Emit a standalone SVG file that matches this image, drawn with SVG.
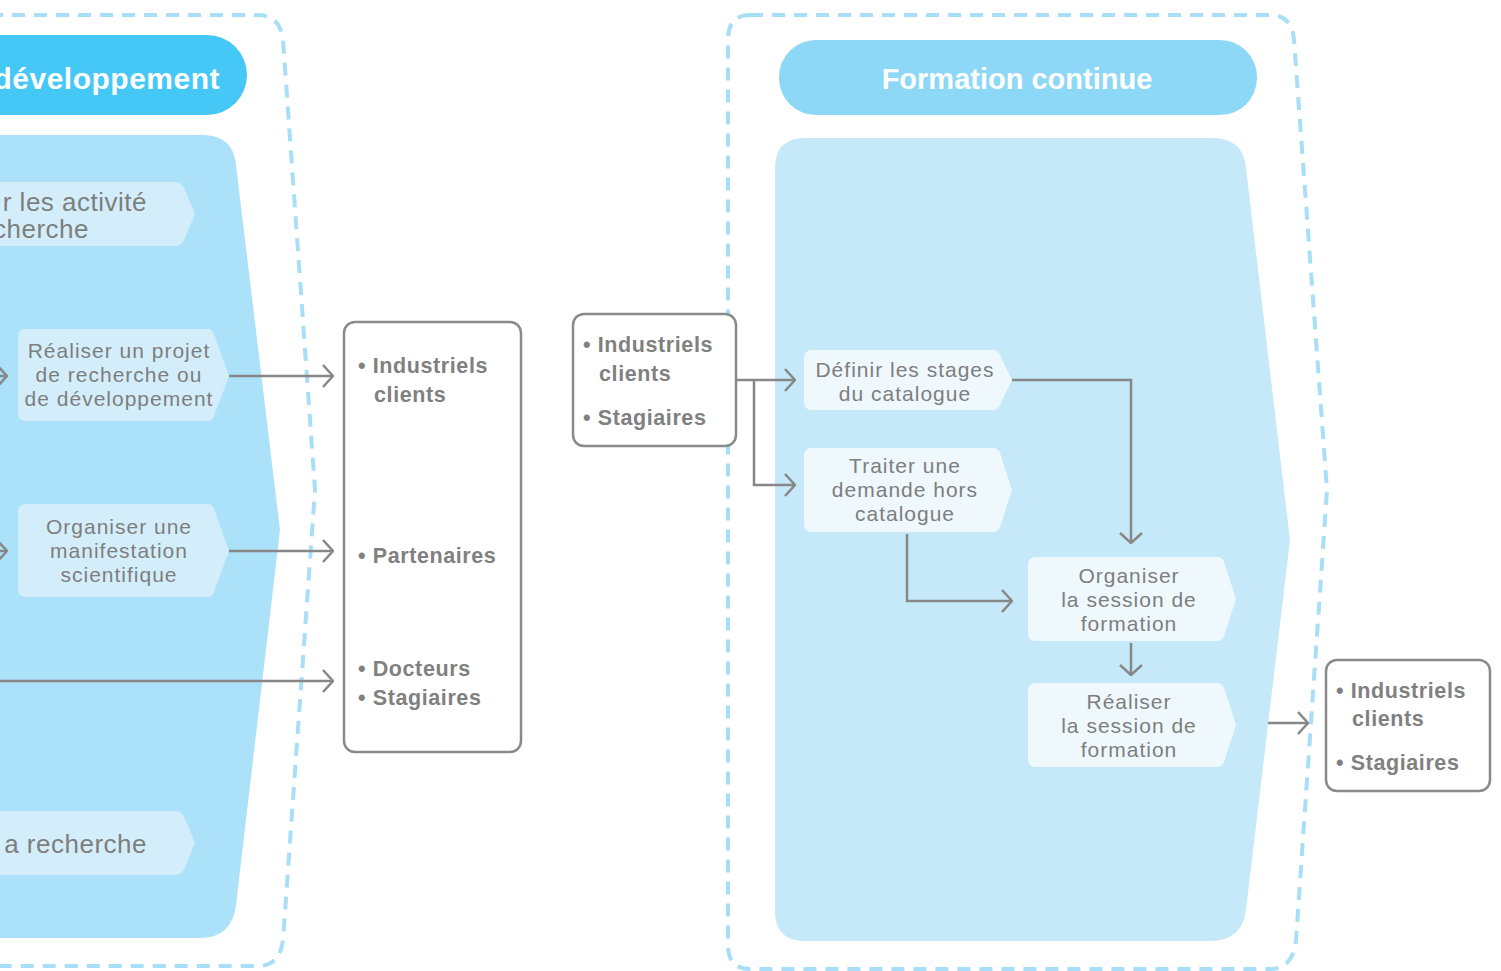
<svg xmlns="http://www.w3.org/2000/svg" width="1501" height="971" viewBox="0 0 1501 971">
<style>
.dash{fill:none;stroke:#A9DEF8;stroke-width:4;stroke-dasharray:13 9}
.proc{fill:#D3EEFA}
.proc2{fill:#EEF8FD}
.pt{font-family:"Liberation Sans",Arial,sans-serif;font-size:21px;letter-spacing:1px;fill:#7E7E7E;text-anchor:middle}
.big{font-family:"Liberation Sans",Arial,sans-serif;font-size:26px;letter-spacing:0.5px;fill:#7E7E7E}
.hd{font-family:"Liberation Sans",Arial,sans-serif;font-size:29px;font-weight:bold;fill:#FFFFFF}
.bx{fill:#FFFFFF;stroke:#8A8A8A;stroke-width:2.5}
.bt{font-family:"Liberation Sans",Arial,sans-serif;font-size:21.5px;font-weight:bold;letter-spacing:0.6px;fill:#808080}
.con{fill:none;stroke:#878787;stroke-width:2.5}
</style>
<defs>
<marker id="arr" viewBox="0 0 12 24" refX="11" refY="12" markerWidth="12" markerHeight="24" markerUnits="userSpaceOnUse" orient="auto">
<path d="M1,1 L11,12 L1,23" fill="none" stroke="#878787" stroke-width="2.5"/>
</marker>
</defs>
<rect width="1501" height="971" fill="#FFFFFF"/>

<g id="panel-left">
<path class="dash" d="M-10,15 H258 Q280,15 283,40 L315,490 L283,940 Q280,966 258,966 H-10"/>
<rect x="-40" y="35" width="287" height="80" rx="40" fill="#45C8F5"/>
<text class="hd" x="220" y="89" text-anchor="end" style="font-size:30px;letter-spacing:0.5px">développement</text>
<path d="M-10,135 H203 Q233,135 236,165 L280,530 L236,905 Q232,938 200,938 H-10 Z" fill="#ACE1FA"/>
</g>

<g id="panel-right">
<path class="dash" d="M750,15 H1270 Q1292,15 1294,40 L1327,490 L1296,940 Q1293,969 1270,969 H750 Q728,969 728,945 V40 Q728,15 750,15 Z"/>
<rect x="779" y="40" width="478" height="75" rx="37" fill="#8ED8F7"/>
<text class="hd" x="1017" y="89" text-anchor="middle">Formation continue</text>
<path d="M805,138 H1213 Q1243,138 1246,168 L1290,540 L1246,910 Q1242,941 1210,941 H805 Q775,941 775,911 V168 Q775,138 805,138 Z" fill="#C6E9F9"/>
</g>

<g id="n-activite">
<path class="proc" d="M-10,182 H175 Q182,182 185,190 L195,214 L185,238 Q182,246 175,246 H-10 Z"/>
<text class="big" x="147" y="211" text-anchor="end">r les activité</text>
<text class="big" x="89" y="238" text-anchor="end">cherche</text>
</g>

<g id="n-projet">
<path class="proc" d="M26,329 H208 Q212,329 214,334 L229,376 L214,416 Q212,421 208,421 H26 Q18,421 18,413 V337 Q18,329 26,329 Z"/>
<text class="pt" x="119" y="358">Réaliser un projet</text>
<text class="pt" x="119" y="382">de recherche ou</text>
<text class="pt" x="119" y="406">de développement</text>
</g>

<g id="n-manif">
<path class="proc" d="M26,504 H208 Q212,504 214,509 L229,551 L214,592 Q212,597 208,597 H26 Q18,597 18,589 V512 Q18,504 26,504 Z"/>
<text class="pt" x="119" y="534">Organiser une</text>
<text class="pt" x="119" y="558">manifestation</text>
<text class="pt" x="119" y="582">scientifique</text>
</g>

<g id="n-recherche">
<path class="proc" d="M-10,811 H175 Q182,811 185,819 L195,843 L185,867 Q182,875 175,875 H-10 Z"/>
<text class="big" x="147" y="853" text-anchor="end">a recherche</text>
</g>

<g id="n-box1">
<rect class="bx" x="344" y="322" width="177" height="430" rx="11"/>
<text class="bt" x="358" y="373">• Industriels</text>
<text class="bt" x="374" y="402">clients</text>
<text class="bt" x="358" y="563">• Partenaires</text>
<text class="bt" x="358" y="676">• Docteurs</text>
<text class="bt" x="358" y="705">• Stagiaires</text>
</g>

<g id="n-box2">
<rect class="bx" x="573" y="314" width="163" height="132" rx="11"/>
<text class="bt" x="583" y="352">• Industriels</text>
<text class="bt" x="599" y="381">clients</text>
<text class="bt" x="583" y="425">• Stagiaires</text>
</g>

<g id="n-definir">
<path class="proc2" d="M812,350 H993 Q998,350 1000,355 L1012,380 L1000,405 Q998,410 993,410 H812 Q804,410 804,402 V358 Q804,350 812,350 Z"/>
<text class="pt" x="905" y="377">Définir les stages</text>
<text class="pt" x="905" y="401">du catalogue</text>
</g>

<g id="n-traiter">
<path class="proc2" d="M812,448 H993 Q998,448 1000,453 L1012,490 L1000,527 Q998,532 993,532 H812 Q804,532 804,524 V456 Q804,448 812,448 Z"/>
<text class="pt" x="905" y="473">Traiter une</text>
<text class="pt" x="905" y="497">demande hors</text>
<text class="pt" x="905" y="521">catalogue</text>
</g>

<g id="n-organiser">
<path class="proc2" d="M1036,557 H1217 Q1222,557 1224,562 L1236,599 L1224,636 Q1222,641 1217,641 H1036 Q1028,641 1028,633 V565 Q1028,557 1036,557 Z"/>
<text class="pt" x="1129" y="583">Organiser</text>
<text class="pt" x="1129" y="607">la session de</text>
<text class="pt" x="1129" y="631">formation</text>
</g>

<g id="n-realiser">
<path class="proc2" d="M1036,683 H1217 Q1222,683 1224,688 L1236,725 L1224,762 Q1222,767 1217,767 H1036 Q1028,767 1028,759 V691 Q1028,683 1036,683 Z"/>
<text class="pt" x="1129" y="709">Réaliser</text>
<text class="pt" x="1129" y="733">la session de</text>
<text class="pt" x="1129" y="757">formation</text>
</g>

<g id="n-box3">
<rect class="bx" x="1326" y="660" width="164" height="131" rx="11"/>
<text class="bt" x="1336" y="698">• Industriels</text>
<text class="bt" x="1352" y="726">clients</text>
<text class="bt" x="1336" y="770">• Stagiaires</text>
</g>

<g id="connectors">
<path class="con" d="M-20,376 H7" marker-end="url(#arr)"/>
<path class="con" d="M-20,551 H7" marker-end="url(#arr)"/>
<path class="con" d="M229,376 H333" marker-end="url(#arr)"/>
<path class="con" d="M229,551 H333" marker-end="url(#arr)"/>
<path class="con" d="M-10,681 H333" marker-end="url(#arr)"/>
<path class="con" d="M736,380 H795" marker-end="url(#arr)"/>
<path class="con" d="M754,380 V485 H795" marker-end="url(#arr)"/>
<path class="con" d="M1012,380 H1131 V543" marker-end="url(#arr)"/>
<path class="con" d="M907,534 V601 H1012" marker-end="url(#arr)"/>
<path class="con" d="M1131,643 V675" marker-end="url(#arr)"/>
<path class="con" d="M1268,723 H1308" marker-end="url(#arr)"/>
</g>
</svg>
